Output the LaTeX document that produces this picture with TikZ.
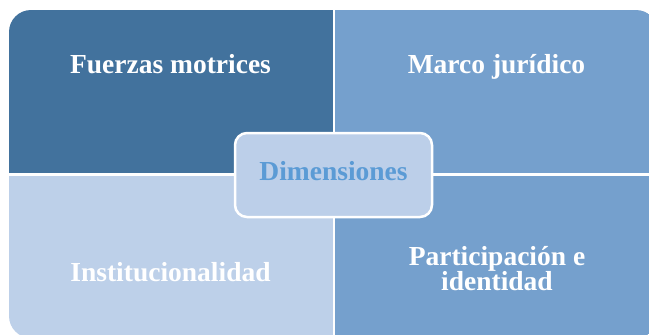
\documentclass[tikz,border=0pt]{standalone}
\usepackage{fontspec}
\setmainfont{Liberation Serif}
\definecolor{qdark}{RGB}{66,114,157}
\definecolor{qmid}{RGB}{117,160,205}
\definecolor{qlight}{RGB}{189,208,233}
\definecolor{cbox}{RGB}{188,207,233}
\definecolor{ctext}{RGB}{91,155,213}
\tikzset{
  quadlabel/.style={text=white, font=\fontsize{27.5}{25}\selectfont\bfseries, align=center, inner sep=0pt},
  centerbox/.style={draw=white, line width=2.5pt, fill=cbox, rounded corners=12pt, minimum width=197pt, minimum height=84pt, inner sep=0pt},
  centerlabel/.style={text=ctext, font=\fontsize{27.5}{30}\selectfont\bfseries, inner sep=0pt}
}
\begin{document}
\begin{tikzpicture}[x=1pt,y=-1pt]
\useasboundingbox (0,0) rectangle (649,335);
\begin{scope}
  \clip[rounded corners=22pt] (9,10) rectangle (658,338);
  \fill[qdark]  (9,10) rectangle (332.5,172.5);
  \fill[qmid]   (335.3,10) rectangle (658,172.5);
  \fill[qlight] (9,175.5) rectangle (332.5,338);
  \fill[qmid]   (335.3,175.5) rectangle (658,338);
\end{scope}
\node[quadlabel, anchor=base] (fuerzas) at (170.5,73) {Fuerzas motrices};
\node[quadlabel, anchor=base] (marco) at (496.5,73) {Marco jurídico};
\node[quadlabel, anchor=base] (inst) at (170.5,281) {Institucionalidad};
\node[quadlabel, anchor=base] (part) at (497,290) {Participación e\\identidad};
\node[centerbox] (dimbox) at (333.5,175) {};
\node[centerlabel, anchor=base] (dim) at (dimbox.center |- 0,180) {Dimensiones};
\end{tikzpicture}
\end{document}
